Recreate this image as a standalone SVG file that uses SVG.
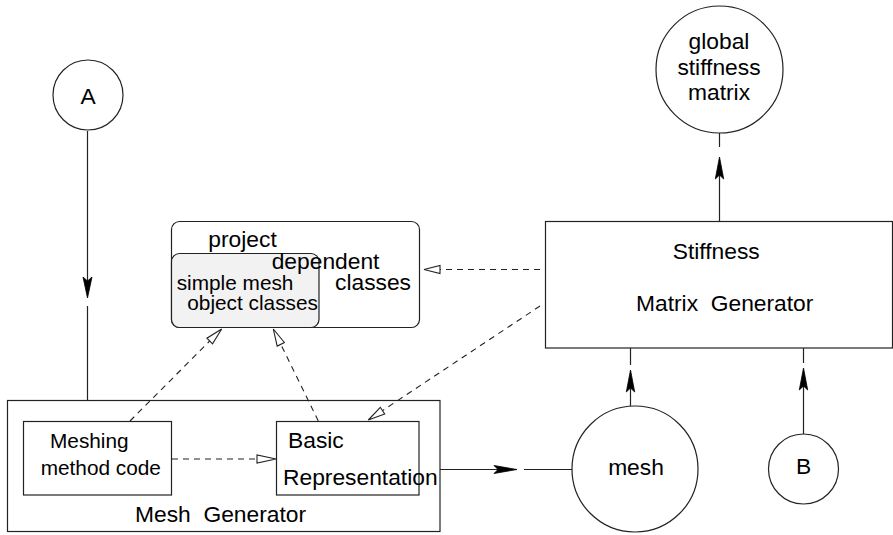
<svg xmlns="http://www.w3.org/2000/svg" width="893" height="535" viewBox="0 0 893 535">
<style>
.box{fill:#fff;stroke:#222;stroke-width:1.2}
.circ{fill:#fff;stroke:#222;stroke-width:1.2}
.t{font-family:"Liberation Sans",Arial,sans-serif;font-size:22.8px;fill:#000}
.s{font-size:20.8px}
.m{text-anchor:middle}
.ln{fill:none;stroke:#222;stroke-width:1.2}
.dash{fill:none;stroke:#222;stroke-width:1.1;stroke-dasharray:6 5}
.ah{fill:#000;stroke:#000;stroke-width:0.8;stroke-linejoin:miter}
.oh{fill:#fff;stroke:#222;stroke-width:1.1}
</style>
<rect width="893" height="535" fill="#fff"/>

<g id="meshgen">
<rect class="box" x="7.5" y="400.5" width="432.5" height="131"/>
<text class="t" x="135" y="522" xml:space="preserve">Mesh  Generator</text>
</g>
<g id="meshing">
<rect class="box" x="23.5" y="421.5" width="148" height="73.5"/>
<text class="t s" x="50" y="448">Meshing</text>
<text class="t s" x="40.7" y="475">method code</text>
</g>
<g id="basic">
<rect class="box" x="276.5" y="421.5" width="142.5" height="73.5"/>
<text class="t" x="288" y="448">Basic</text>
<text class="t" x="283" y="485">Representation</text>
</g>

<g id="project">
<rect class="box" x="171.5" y="221.5" width="248" height="106" rx="8" ry="8"/>
<rect x="171.5" y="253.5" width="147.5" height="74" rx="8" ry="8" fill="#f2f2f2" stroke="#222" stroke-width="1.2"/>
<text class="t" x="208.3" y="246.7">project</text>
<text class="t" x="271.7" y="268.5">dependent</text>
<text class="t" x="335" y="289.5">classes</text>
<text class="t s" x="176.7" y="290">simple mesh</text>
<text class="t s" x="187.3" y="310">object classes</text>
</g>

<g id="stiffness">
<rect class="box" x="545.5" y="221.5" width="347" height="126.5"/>
<text class="t" x="672.7" y="259">Stiffness</text>
<text class="t" x="636" y="310.7" xml:space="preserve">Matrix  Generator</text>
</g>

<g id="A">
<circle class="circ" cx="88" cy="95" r="35"/>
<text class="t m" x="88" y="104">A</text>
</g>
<g id="global">
<circle class="circ" cx="719.5" cy="69.5" r="63.5"/>
<text class="t m" x="719" y="49">global</text>
<text class="t m" x="719" y="75">stiffness</text>
<text class="t m" x="719" y="100">matrix</text>
</g>
<g id="mesh">
<circle class="circ" cx="635" cy="469" r="63"/>
<text class="t m" x="636" y="475">mesh</text>
</g>
<g id="B">
<circle class="circ" cx="803.5" cy="469" r="35"/>
<text class="t m" x="803.5" y="474">B</text>
</g>

<g id="connectors">
<!-- A to Mesh Generator -->
<line class="ln" x1="87.5" y1="131" x2="87.5" y2="290"/>
<path class="ah" d="M87.5,298 L83,277 L87.5,281 L92,277 Z"/>
<line class="ln" x1="87.5" y1="306" x2="87.5" y2="400.5"/>
<!-- Basic to mesh -->
<line class="ln" x1="440" y1="469.5" x2="510" y2="469.5"/>
<path class="ah" d="M517,469.5 L494,465.5 L498,469.5 L494,473.5 Z"/>
<line class="ln" x1="524" y1="469.5" x2="572" y2="469.5"/>
<!-- mesh to stiffness -->
<line class="ln" x1="630.5" y1="406" x2="630.5" y2="378"/>
<path class="ah" d="M630.5,370 L626.3,392 L630.5,388 L634.7,392 Z"/>
<line class="ln" x1="630.5" y1="365" x2="630.5" y2="348"/>
<!-- B to stiffness -->
<line class="ln" x1="803.5" y1="434" x2="803.5" y2="376"/>
<path class="ah" d="M803.5,368 L799.3,390 L803.5,386 L807.7,390 Z"/>
<line class="ln" x1="803.5" y1="363" x2="803.5" y2="348"/>
<!-- stiffness to global -->
<line class="ln" x1="719.5" y1="221.5" x2="719.5" y2="165"/>
<path class="ah" d="M719.5,157 L715.3,179 L719.5,175 L723.7,179 Z"/>
<line class="ln" x1="719.5" y1="147" x2="719.5" y2="133"/>
<!-- dashed dependencies -->
<line class="dash" x1="540" y1="269.5" x2="440" y2="269.5"/>
<path class="oh" d="M424,269.5 L440,265.5 L440,273.5 Z"/>
<line class="dash" x1="540" y1="306" x2="382.5" y2="410.6"/>
<path class="oh" d="M368.3,420 L384.7,413.9 L380.3,407.3 Z"/>
<line class="dash" x1="130" y1="421" x2="209.7" y2="341"/>
<path class="oh" d="M221.7,329 L212.5,343.8 L206.9,338.2 Z"/>
<line class="dash" x1="318.3" y1="421" x2="280.8" y2="344.3"/>
<path class="oh" d="M273.3,329 L284.4,342.5 L277.2,346.1 Z"/>
<line class="dash" x1="172" y1="459" x2="257" y2="459"/>
<path class="oh" d="M276,459 L257,455 L257,463 Z"/>
</g>
</svg>
